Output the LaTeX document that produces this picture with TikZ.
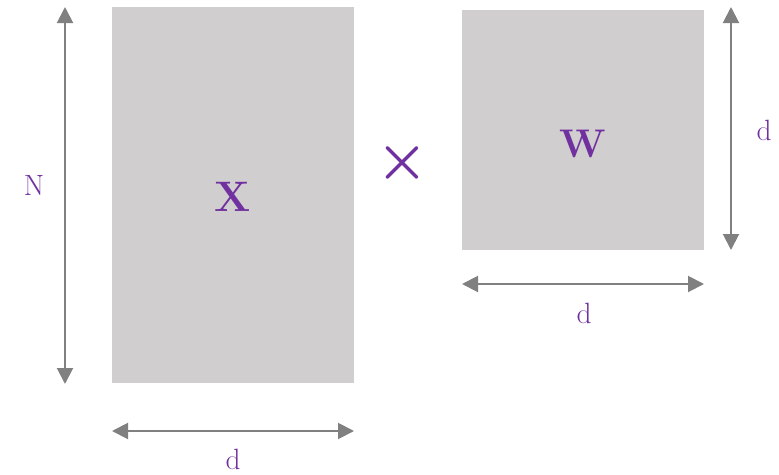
\documentclass[tikz,border=0pt]{standalone}
\usepackage{xcolor}
\usepackage{tikz}
\usetikzlibrary{arrows.meta,positioning,calc}
\definecolor{purple2}{RGB}{112,48,160}
\definecolor{lightgray2}{RGB}{208,206,206}
\definecolor{gray2}{RGB}{128,128,128}
\tikzset{
  matbox/.style={fill=lightgray2, draw=none, inner sep=0pt},
  matlabel/.style={text=purple2, font=\fontsize{32}{36}\selectfont\bfseries, inner sep=0pt},
  dimarrow/.style={{Triangle[length=12pt,width=12pt]}-{Triangle[length=12pt,width=12pt]},
    draw=gray2, line width=1.5pt},
  dimlabel/.style={text=purple2, font=\fontsize{22}{26}\selectfont, inner sep=0pt}
}

\begin{document}
\begin{tikzpicture}[x=0.75pt, y=-0.75pt]
\useasboundingbox (0,0) rectangle (779,475);

\node[matbox, minimum width=181.5pt, minimum height=282pt] (Xbox) at (233,195) {};
\node[matbox, minimum width=181.5pt, minimum height=180pt] (Wbox) at (583,130) {};
\node[matlabel] (Xlabel) at (233,197) {X};
\node[matlabel, font=\fontsize{30}{34}\selectfont\bfseries] (Wlabel) at (583,144) {W};

\node[text=purple2, inner sep=0pt] (times) at (402,163)
  {\scalebox{2.1}{\fontsize{20}{20}\selectfont\boldmath$\times$}};

% dimension ends
\coordinate (nTop) at (65,7);
\coordinate (nBot) at (65,384);
\coordinate (xdL) at (112,431);
\coordinate (xdR) at (354,431);
\coordinate (wdTop) at (731,7);
\coordinate (wdBot) at (731,250);
\coordinate (wdL) at (462,284);
\coordinate (wdR) at (704,284);

\draw[dimarrow] (nTop)--(nBot);
\draw[dimarrow] (xdL)--(xdR);
\draw[dimarrow] (wdTop)--(wdBot);
\draw[dimarrow] (wdL)--(wdR);

\node[dimlabel] (nlabel) at (34,185) {N};
\node[dimlabel] (xdlabel) at (233,459) {d};
\node[dimlabel] (wdvlabel) at (764,130) {d};
\node[dimlabel] (wdhlabel) at (584,313) {d};
\end{tikzpicture}
\end{document}
